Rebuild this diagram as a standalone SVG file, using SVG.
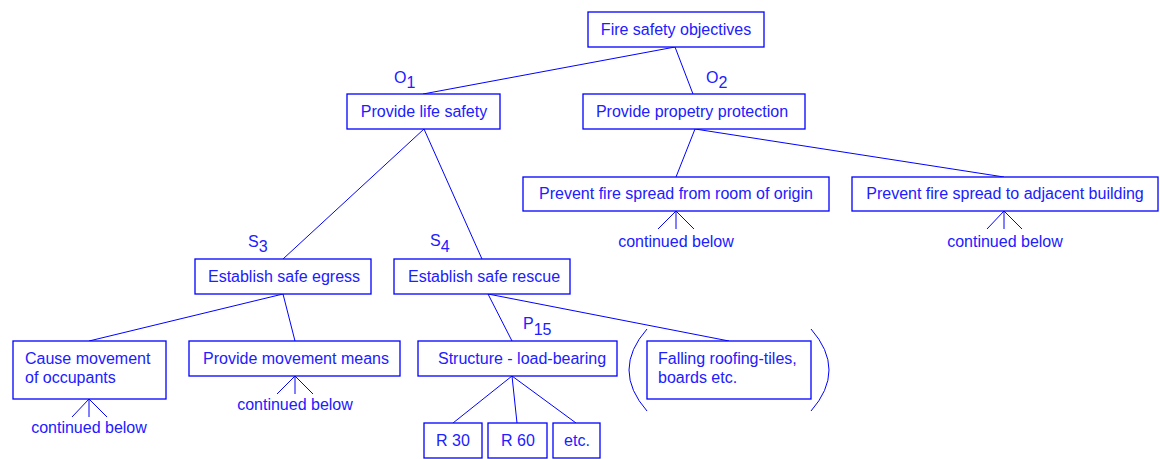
<svg xmlns="http://www.w3.org/2000/svg" width="1160" height="459" viewBox="0 0 1160 459">
<style>
  .box { fill: #ffffff; stroke: #0000ff; stroke-width: 1.3; }
  .ln { stroke: #0000ff; stroke-width: 1; fill: none; }
  text { font-family: "Liberation Sans", Arial, sans-serif; font-size: 16px; fill: #2020ff; }
  .c { text-anchor: middle; }
</style>
<rect width="1160" height="459" fill="#ffffff"/>
<g id="connectors">
  <line class="ln" x1="675" y1="47" x2="423" y2="94"/>
  <line class="ln" x1="675" y1="47" x2="693" y2="94"/>
  <line class="ln" x1="424" y1="129" x2="283" y2="259"/>
  <line class="ln" x1="424" y1="129" x2="482" y2="259"/>
  <line class="ln" x1="695" y1="129" x2="676" y2="177"/>
  <line class="ln" x1="695" y1="129" x2="1004" y2="177"/>
  <line class="ln" x1="283" y1="294" x2="89" y2="341"/>
  <line class="ln" x1="283" y1="294" x2="295" y2="341"/>
  <line class="ln" x1="488" y1="294" x2="512" y2="341"/>
  <line class="ln" x1="488" y1="294" x2="729" y2="341"/>
  <line class="ln" x1="512" y1="376" x2="453" y2="423"/>
  <line class="ln" x1="512" y1="376" x2="517" y2="423"/>
  <line class="ln" x1="512" y1="376" x2="576" y2="423"/>
</g>
<g id="labels">
  <text x="394" y="83">O<tspan dy="5">1</tspan></text>
  <text x="706" y="83">O<tspan dy="5">2</tspan></text>
  <text x="248" y="247">S<tspan dy="5">3</tspan></text>
  <text x="430" y="246">S<tspan dy="6">4</tspan></text>
  <text x="523" y="329">P<tspan dy="6">15</tspan></text>
</g>
<g id="n-root">
  <rect class="box" x="588" y="12" width="176" height="35"/>
  <text class="c" x="676" y="35">Fire safety objectives</text>
</g>
<g id="n-life">
  <rect class="box" x="347" y="94" width="153" height="35"/>
  <text class="c" x="424" y="117">Provide life safety</text>
</g>
<g id="n-property">
  <rect class="box" x="583" y="94" width="222" height="35"/>
  <text class="c" x="692" y="117">Provide propetry protection</text>
</g>
<g id="n-room">
  <rect class="box" x="523" y="177" width="306" height="34"/>
  <text class="c" x="676" y="199">Prevent fire spread from room of origin</text>
</g>
<g id="n-adjacent">
  <rect class="box" x="852" y="177" width="306" height="34"/>
  <text class="c" x="1005" y="199">Prevent fire spread to adjacent building</text>
</g>
<g id="n-egress">
  <rect class="box" x="195" y="259" width="176" height="35"/>
  <text class="c" x="284" y="282">Establish safe egress</text>
</g>
<g id="n-rescue">
  <rect class="box" x="394" y="259" width="176" height="35"/>
  <text class="c" x="484" y="282">Establish safe rescue</text>
</g>
<g id="n-cause">
  <rect class="box" x="13" y="341" width="153" height="58"/>
  <text x="25" y="364">Cause movement</text>
  <text x="25" y="383">of occupants</text>
</g>
<g id="n-means">
  <rect class="box" x="189" y="341" width="211" height="35"/>
  <text class="c" x="296" y="364">Provide movement means</text>
</g>
<g id="n-structure">
  <rect class="box" x="418" y="341" width="199" height="35"/>
  <text class="c" x="522" y="364">Structure - load-bearing</text>
</g>
<g id="n-falling">
  <rect class="box" x="647" y="341" width="164" height="58"/>
  <text x="658" y="364">Falling roofing-tiles,</text>
  <text x="658" y="383">boards etc.</text>
  <path class="ln" d="M647,329 Q611,370 647,411"/>
  <path class="ln" d="M811,329 Q847,370 811,411"/>
</g>
<g id="n-r30">
  <rect class="box" x="424" y="423" width="58" height="35"/>
  <text class="c" x="453" y="446">R 30</text>
</g>
<g id="n-r60">
  <rect class="box" x="488" y="423" width="59" height="35"/>
  <text class="c" x="518" y="446">R 60</text>
</g>
<g id="n-etc">
  <rect class="box" x="553" y="423" width="47" height="35"/>
  <text class="c" x="577" y="446">etc.</text>
</g>
<g id="cont-cause">
  <path class="ln" d="M89,399 V417 M89,399 L72,417 M89,399 L107,417"/>
  <text class="c" x="89" y="433">continued below</text>
</g>
<g id="cont-means">
  <path class="ln" d="M295,376 V394 M295,376 L277,394 M295,376 L313,394"/>
  <text class="c" x="295" y="410">continued below</text>
</g>
<g id="cont-room">
  <path class="ln" d="M676,211 V229 M676,211 L658,229 M676,211 L694,229"/>
  <text class="c" x="676" y="247">continued below</text>
</g>
<g id="cont-adjacent">
  <path class="ln" d="M1004,211 V229 M1004,211 L987,229 M1004,211 L1022,229"/>
  <text class="c" x="1005" y="247">continued below</text>
</g>
</svg>
